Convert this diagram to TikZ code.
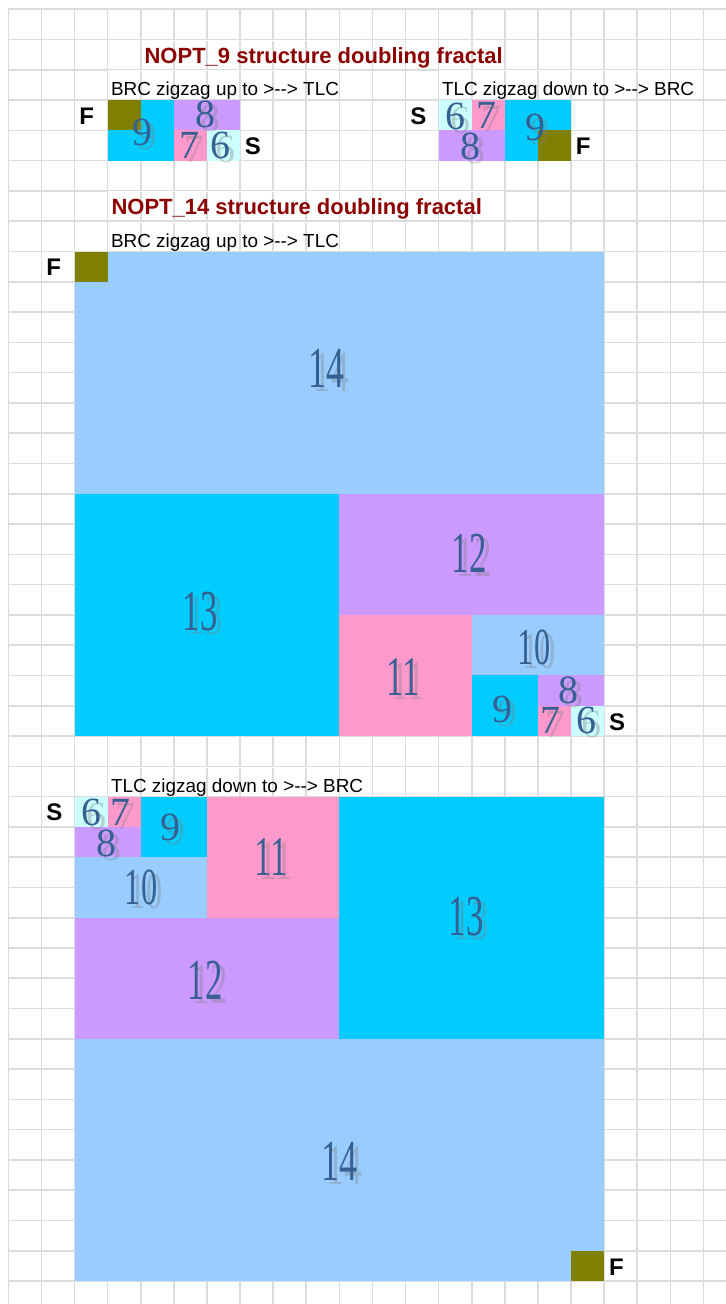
\documentclass[tikz,border=0pt]{standalone}
\usepackage{fontspec}
\setmainfont{Liberation Sans}
\newfontfamily\numfont{Liberation Serif}
\definecolor{gridgray}{RGB}{218,220,222}
\definecolor{olivec}{RGB}{128,128,0}
\definecolor{cyanc}{RGB}{0,204,255}
\definecolor{lavc}{RGB}{204,153,255}
\definecolor{pinkc}{RGB}{255,153,204}
\definecolor{lcyanc}{RGB}{204,255,255}
\definecolor{lbluec}{RGB}{153,204,255}
\definecolor{titlered}{RGB}{140,0,0}
\definecolor{numblue}{RGB}{55,96,146}
\newcommand\GX[1]{8.3+33.1*#1}
\newcommand\GY[1]{9.3+30.28*#1}
\newcommand\cellfill[5]{\fill[#1] ({\GX{#2}},{\GY{#3}}) rectangle ({\GX{#4}},{\GY{#5}});}
\newcommand\cover[3]{\fill[white] ({\GX{#2}+0.7},{\GY{#1}+0.7}) rectangle ({\GX{#3}-0.7},{\GY{#1+1}-0.7});}
% name, x, y, size, xscale, text
\newcommand\wnum[6]{%
  \node[numsh] (#1s) at (#2+5,#3+4) {\fontsize{#4}{#4}\selectfont\scalebox{#5}[1]{#6}};
  \node[numtx] (#1) at (#2,#3) {\fontsize{#4}{#4}\selectfont\scalebox{#5}[1]{#6}};}
\tikzset{
  gridline/.style={draw=gridgray, line width=0.8pt},
  numsh/.style={inner sep=0, text=gray, text opacity=0.35, font=\numfont},
  numtx/.style={inner sep=0, text=numblue, font=\numfont},
  titletxt/.style={inner sep=0, anchor=base west, text=titlered, font=\fontsize{11}{13}\selectfont\bfseries},
  subtxt/.style={inner sep=0, anchor=base west, text=black, font=\fontsize{9.45}{11}\selectfont},
  fslabel/.style={inner sep=0, anchor=base west, text=black, font=\fontsize{12}{14}\selectfont\bfseries}
}
\begin{document}
\begin{tikzpicture}[x=0.5pt, y=-0.5pt]
\useasboundingbox (0,0) rectangle (726,1304);
\fill[white] (0,0) rectangle (726,1304);
% grid
\foreach \i in {0,...,21} \draw[gridline] ({\GX{\i}},{\GY{0}}) -- ({\GX{\i}},1304);
\foreach \j in {0,...,42} \draw[gridline] ({\GX{0}},{\GY{\j}}) -- (726,{\GY{\j}});
% hide grid lines under overflowing text
\cover{1}{4}{15}
\cover{2}{3}{10}
\cover{2}{13}{21}
\cover{6}{3}{15}
\cover{7}{3}{10}
\cover{25}{3}{11}
% titles
\node[titletxt] (t1) at ({\GX{4}+3.5},{\GY{2}-6.5}) {NOPT\_9 structure doubling fractal};
\node[subtxt] (s1) at ({\GX{3}+3},{\GY{3}-4.5}) {BRC zigzag up to >-{}-> TLC};
\node[subtxt] (s2) at ({\GX{13}+3},{\GY{3}-4.5}) {TLC zigzag down to >-{}-> BRC};
\node[titletxt] (t2) at ({\GX{3}+3.5},{\GY{7}-6.5}) {NOPT\_14 structure doubling fractal};
\node[subtxt] (s3) at ({\GX{3}+3},{\GY{8}-4.5}) {BRC zigzag up to >-{}-> TLC};
\node[subtxt] (s4) at ({\GX{3}+3},{\GY{26}-4.5}) {TLC zigzag down to >-{}-> BRC};
% small fractal A (BRC up)
\cellfill{cyanc}{3}{3}{5}{5}
\cellfill{olivec}{3}{3}{4}{4}
\cellfill{lavc}{5}{3}{7}{4}
\cellfill{pinkc}{5}{4}{6}{5}
\cellfill{lcyanc}{6}{4}{7}{5}
% small fractal B (TLC down)
\cellfill{lcyanc}{13}{3}{14}{4}
\cellfill{pinkc}{14}{3}{15}{4}
\cellfill{lavc}{13}{4}{15}{5}
\cellfill{cyanc}{15}{3}{17}{5}
\cellfill{olivec}{16}{4}{17}{5}
% big fractal A
\cellfill{lbluec}{2}{8}{18}{16}
\cellfill{olivec}{2}{8}{3}{9}
\cellfill{cyanc}{2}{16}{10}{24}
\cellfill{lavc}{10}{16}{18}{20}
\cellfill{pinkc}{10}{20}{14}{24}
\cellfill{lbluec}{14}{20}{18}{22}
\cellfill{cyanc}{14}{22}{16}{24}
\cellfill{lavc}{16}{22}{18}{23}
\cellfill{pinkc}{16}{23}{17}{24}
\cellfill{lcyanc}{17}{23}{18}{24}
% big fractal B
\cellfill{lcyanc}{2}{26}{3}{27}
\cellfill{pinkc}{3}{26}{4}{27}
\cellfill{cyanc}{4}{26}{6}{28}
\cellfill{lavc}{2}{27}{4}{28}
\cellfill{lbluec}{2}{28}{6}{30}
\cellfill{pinkc}{6}{26}{10}{30}
\cellfill{lavc}{2}{30}{10}{34}
\cellfill{cyanc}{10}{26}{18}{34}
\cellfill{lbluec}{2}{34}{18}{42}
\cellfill{olivec}{17}{41}{18}{42}
% F / S labels
\node[fslabel] (fa) at ({\GX{2}+4.5},{\GY{4}-6}) {F};
\node[fslabel] (sa) at ({\GX{7}+4.5},{\GY{5}-6}) {S};
\node[fslabel] (sb) at ({\GX{12}+4.5},{\GY{4}-6}) {S};
\node[fslabel] (fb) at ({\GX{17}+4.5},{\GY{5}-6}) {F};
\node[fslabel] (fc) at ({\GX{1}+4.5},{\GY{9}-6}) {F};
\node[fslabel] (sc) at ({\GX{18}+4.5},{\GY{24}-6}) {S};
\node[fslabel] (sd) at ({\GX{1}+4.5},{\GY{27}-6}) {S};
\node[fslabel] (fd) at ({\GX{18}+4.5},{\GY{42}-6}) {F};
% numbers: small A
\wnum{a9}{142}{132}{20}{1}{9}
\wnum{a8}{205}{114}{20}{1}{8}
\wnum{a7}{189}{145}{20}{1}{7}
\wnum{a6}{220}{145}{20}{1}{6}
% small B
\wnum{b6}{455}{116}{20}{1}{6}
\wnum{b7}{486}{115}{20}{1}{7}
\wnum{b8}{470}{146}{20}{1}{8}
\wnum{b9}{535}{127}{20}{1}{9}
% big A
\wnum{c14}{326}{368}{29}{0.62}{14}
\wnum{c13}{200}{612}{29}{0.6}{13}
\wnum{c12}{469}{553}{29}{0.6}{12}
\wnum{c11}{403}{677}{28}{0.62}{11}
\wnum{c10}{534}{647}{26}{0.62}{10}
\wnum{c9}{502}{709}{20}{1}{9}
\wnum{c8}{568}{690}{20}{1}{8}
\wnum{c7}{550}{720}{20}{1}{7}
\wnum{c6}{586}{720}{20}{1}{6}
% big B
\wnum{d6}{91}{812}{20}{1}{6}
\wnum{d7}{120}{812}{20}{1}{7}
\wnum{d8}{106}{843}{20}{1}{8}
\wnum{d9}{170}{827}{20}{1}{9}
\wnum{d10}{141}{887}{26}{0.62}{10}
\wnum{d11}{271}{857}{28}{0.62}{11}
\wnum{d12}{205}{980}{29}{0.6}{12}
\wnum{d13}{466}{917}{29}{0.6}{13}
\wnum{d14}{339}{1161}{29}{0.62}{14}
\end{tikzpicture}
\end{document}
